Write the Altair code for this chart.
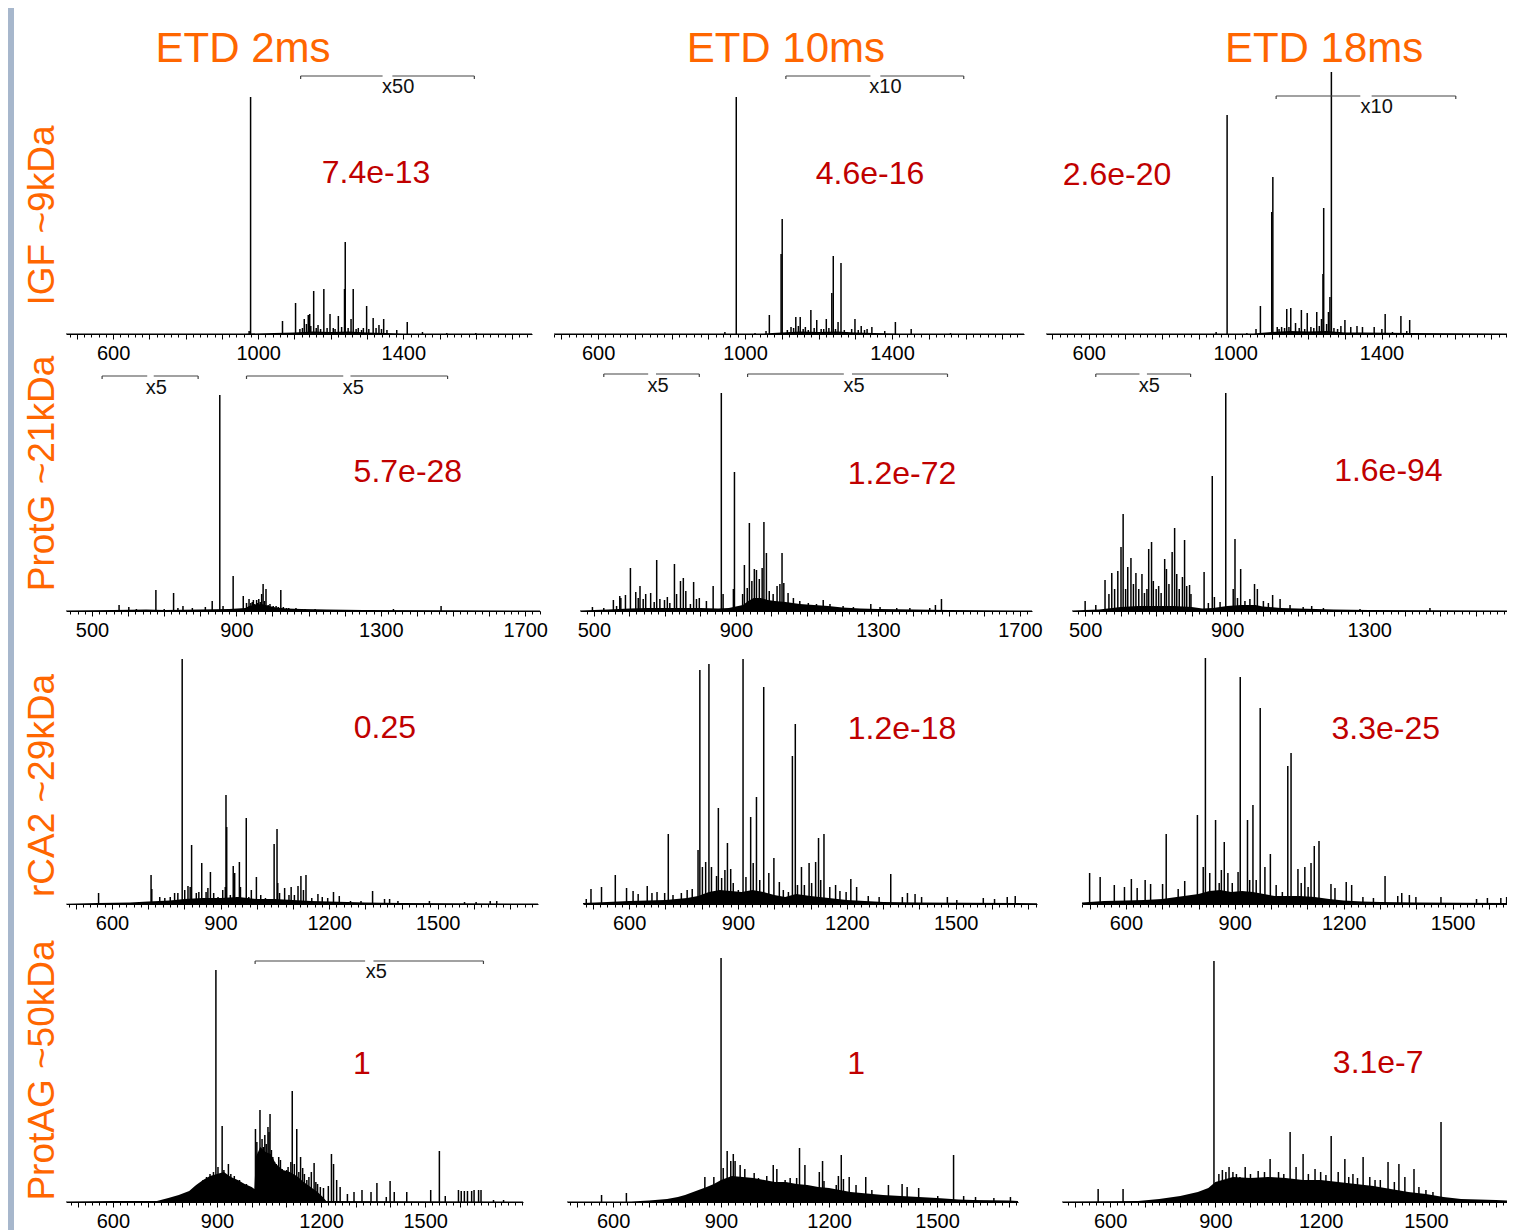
import math
import altair as alt
import pandas as pd

FONT = "Liberation Sans, Arial, Helvetica, sans-serif"
ORANGE = "#FF6600"
RED = "#C00000"
BAR = "#A7B7CC"
BRACKET = "#444444"

COL_TITLES = ["ETD 2ms", "ETD 10ms", "ETD 18ms"]
COL_TITLE_POS = [(958, 285), (1111, 285), (1243, 285)]   # (m/z, level) in the top-row panels
ROW_LABELS = ["IGF ~9kDa", "ProtG ~21kDa", "rCA2 ~29kDa", "ProtAG ~50kDa"]
LABEL_TICKS = [[600, 1000, 1400], [500, 900, 1300, 1700], [600, 900, 1200, 1500], [600, 900, 1200, 1500]]

# ---------------- spectra: peak m/z and displayed peak height ----------------
P11_MZ = [979,1067,1103,1127,1138,1142,1153,1165,1181,1198,1207,1221,1238,1240,1256,1262,1276,1299,1317,1333,1346,1382,1411,1453,1115,1122,1133,1145,1160,1172,1190,1212,1230,1248,1270,1285,1290,1305,1325,1340,1355,975,1520,1600]
P11_H = [237,13,31,15,19,20,43,9,45,20,6,18,45,92,15,45,6,28,16,9,15,4,12,2,5,6,10,8,6,5,6,5,7,6,5,4,6,5,6,5,4,3,1,1]
G11_MZ = [470,960,1100,1150,1200,1250,1300,1350,1400,1755]
G11_H = [0.4,0.4,1.5,2.5,2,2.5,1.5,1,0.6,0.4]

P12_MZ = [976,945,1027,1057,1066,1098,1101,1125,1138,1150,1164,1179,1195,1207,1221,1236,1240,1253,1261,1277,1299,1316,1332,1345,1380,1409,1452,1559,1115,1132,1145,1158,1172,1188,1214,1228,1246,1270,1290,1308,1325]
P12_H = [237,2,1,3,19,80,115,7,17,17,7,24,14,5,15,41,78,12,71,2,15,8,5,7,3,12,5,1,4,6,8,5,4,6,5,6,5,4,5,4,4]
G12_MZ = [480,1050,1100,1150,1200,1250,1300,1350,1420,1759]
G12_H = [0.4,0.5,1.5,2.5,2,2.5,1.5,1,0.6,0.4]

P13_MZ = [978,948,1032,1057,1069,1100,1103,1115,1127,1141,1152,1165,1181,1197,1207,1223,1236,1240,1242,1255,1259,1263,1289,1300,1316,1333,1348,1380,1401,1410,1430,1453,1469,1477,1120,1135,1147,1175,1190,1215,1230,1250,1270,1280]
P13_H = [219,2,1,5,28,122,157,7,7,25,26,11,24,21,7,22,15,60,126,22,37,262,8,14,7,8,7,7,5,20,2,18,3,14,5,6,7,6,5,6,8,10,6,5]
G13_MZ = [483,1050,1100,1150,1200,1250,1300,1350,1480,1745]
G13_H = [0.4,0.5,2,3,2.5,3,1.5,1.5,1,0.4]

P21_MZ = [854,575,602,623,677,700,726,738,752,778,814,833,863,891,919,928,935,947,956,962,970,974,982,988,1002,1023,1039,1057,1076,1118,1335,1467,940,944,951,958,966,978,993,1010,1016,1030,1045,1065,1090]
P21_H = [216,6,4,2,21,2,18,3,5,3,4,10,5,35,15,8,12,11,11,12,17,27,22,6,5,21,3,2,2,2,2,5,8,9,7,8,9,10,7,5,4,4,3,3,2]
G21_MZ = [428,560,650,700,800,880,925,935,950,970,990,1010,1040,1080,1150,1250,1500,1741]
G21_H = [0.5,1,1.5,1,1.5,2,3,5,6,7,5,3.5,2.5,2,1.5,1,0.8,0.4]

P22_MZ = [859,896,496,528,555,564,573,576,589,603,618,625,630,639,646,660,670,677,686,699,707,714,727,733,744,752,759,772,781,789,797,817,836,864,893,919,924,932,938,945,952,958,966,974,979,986,994,1005,1016,1024,1030,1035,1047,1062,1080,1104,1127,1146,1165,1202,1231,1280,1306,1353,1390,1446,1462,1479]
P22_H = [218,139,4,3,11,5,15,13,16,43,19,13,25,12,17,18,9,51,12,11,14,8,47,17,30,33,20,7,29,12,13,10,25,17,22,17,46,23,88,30,42,41,32,43,89,58,20,17,25,27,58,28,18,13,10,8,7,11,7,5,4,7,4,3,3,3,6,12]
G22_MZ = [461,500,540,600,650,700,750,800,850,880,920,935,950,970,990,1010,1040,1080,1120,1160,1200,1250,1300,1400,1500,1734]
G22_H = [0.5,1,1.5,2.5,3,3,3,3,2.5,3,6,10,13,13,11,10,9,7,6,5,3.5,2.5,2,1.5,1,0.5]

P23_MZ = [896,858,500,530,556,567,575,583,592,601,607,614,620,629,636,643,651,660,667,674,679,687,692,700,707,714,724,729,736,745,752,758,765,774,780,786,794,798,814,835,847,864,880,917,922,929,938,950,964,977,985,1002,1016,1028,1049,1077,1114,1138,1171,1274,1471]
P23_H = [218,135,10,6,31,17,38,22,40,64,97,22,44,53,27,38,22,37,18,22,62,69,30,22,25,18,52,42,27,59,83,37,22,34,71,25,26,17,3,39,8,14,9,22,72,13,42,10,12,27,22,10,8,16,12,6,4,5,3,2,3]
G23_MZ = [463,500,540,600,650,700,750,800,830,860,900,940,980,1000,1050,1100,1150,1200,1300,1688]
G23_H = [0.5,1,1.5,4,5,5,5,4,2.5,3,5,6,6,4.5,3,2.5,2,1.5,1,0.5]

P31_MZ = [794,563,708,710,732,746,761,773,782,801,810,816,820,833,840,848,860,865,872,881,893,906,913,915,917,927,935,939,945,952,955,963,971,978,985,999,1011,1024,1048,1056,1058,1063,1077,1089,1095,1104,1114,1122,1129,1136,1152,1169,1181,1196,1212,1228,1259,1288,1320,1353,1367,1390,1477,1574,1606,1645,1663]
P31_H = [245,11,29,15,7,6,7,11,11,14,18,17,59,11,12,41,12,16,32,11,7,14,17,109,77,9,38,31,7,42,17,3,86,7,14,27,9,6,60,75,21,11,16,9,17,9,18,28,14,29,6,10,7,6,12,8,3,3,13,5,5,3,3,2,2,3,3]
G31_MZ = [473,560,650,700,760,800,850,900,950,1000,1050,1100,1150,1200,1250,1300,1400,1777]
G31_H = [0.3,1,1.5,2.5,3.5,5,6,6,7,5,5,4,3,2.5,2,1.5,1,0.5]

P32_MZ = [914,820,795,971,1058,1050,951,935,846,871,708,999,985,1014,880,864,841,811,802,790,562,524,495,482,593,611,625,650,663,677,698,721,744,760,774,827,855,887,901,922,942,960,1025,1039,1064,1075,1083,1096,1103,1114,1122,1128,1137,1153,1169,1181,1198,1211,1227,1259,1289,1321,1353,1367,1388,1406,1477,1503,1576,1607,1642,1664,1733]
P32_H = [245,240,234,217,180,148,107,87,96,61,70,46,31,22,35,34,28,42,37,54,29,17,15,5,16,13,10,18,11,12,11,9,11,14,15,37,26,21,14,27,41,24,14,12,19,37,19,41,21,42,66,24,70,17,19,13,12,25,17,8,7,30,7,11,10,7,7,4,6,5,7,8,3]
G32_MZ = [473,540,600,700,760,790,820,850,880,910,940,970,1000,1030,1060,1100,1150,1200,1250,1300,1400,1724]
G32_H = [1,2,3,4,6,8,12,14,13,12,14,12,9,7,10,8,6,4,3,2,1.5,0.8]

P33_MZ = [819,915,970,1055,1046,950,935,797,847,871,711,1132,1119,998,983,1074,1093,1110,500,529,568,596,615,631,653,668,701,744,762,813,831,857,863,881,893,909,941,959,1014,1031,1083,1102,1165,1176,1207,1222,1253,1282,1314,1349,1360,1381,1399,1468,1566,1596,1633,1649]
P33_H = [246,227,196,151,138,99,84,89,84,62,70,63,58,50,37,35,37,41,31,27,19,17,25,16,24,20,20,15,23,37,31,21,34,31,21,32,24,24,19,12,21,17,20,16,22,19,7,6,28,8,11,9,7,7,5,6,6,7]
G33_MZ = [479,540,600,650,700,760,800,830,860,890,920,950,980,1010,1050,1080,1120,1160,1200,1250,1300,1400,1650]
G33_H = [1.5,3,3.5,4,5,8,10,13,14,12,13,12,10,8,8,8,7,5,3.5,2.5,2,1.5,1]

P41_MZ = [897,915,903,933,1011,1024,1030,1038,1047,1053,1061,1078,1088,1101,1109,1117,1130,1147,1159,1180,1207,1221,1230,1236,1245,1255,1276,1295,1318,1344,1361,1388,1399,1411,1447,1516,1541,1558,1596,1604,1613,1622,1634,1641,1654,1661,1697,1726,
          1015,1020,1034,1042,1050,1057,1066,1071,1083,1094,1105,1113,1123,1136,1141,1152,1165,1172,1185,1190,1198,860,870,880,890,920,940,950,965,985]
P41_H = [232,76,35,38,73,92,63,67,75,88,45,45,33,32,22,111,73,34,22,39,14,16,48,38,22,15,8,10,12,10,19,5,21,10,10,12,51,6,12,11,11,11,11,12,12,12,2,2,
         60,50,55,58,70,52,40,38,42,30,35,40,38,30,45,28,25,30,20,18,15,22,25,28,30,32,28,26,22,18]
G41_MZ = [465,600,727,760,790,820,840,860,880,900,920,940,960,980,1000,1008,1012,1025,1040,1055,1070,1090,1110,1130,1150,1170,1190,1205,1215,1782]
G41_H = [0.5,1,1,4,7,11,17,22,26,28,30,25,22,18,15,13,45,55,50,48,38,32,30,26,20,15,10,5,1,0.5]

P42_MZ = [900,568,637,855,880,906,917,927,934,939,953,966,992,1004,1027,1045,1055,1078,1092,1110,1118,1133,1152,1173,1182,1186,1220,1226,1234,1240,1256,1275,1302,1319,1365,1403,1417,1449,1502,1546,1574,1607,1658,1704,1746]
P42_H = [244,7,9,25,25,34,51,41,48,41,37,33,29,24,26,37,33,22,24,24,54,37,15,30,41,21,17,26,47,23,25,17,25,12,17,18,15,14,6,47,6,5,4,5,3]
G42_MZ = [472,650,700,750,780,800,830,860,880,900,930,960,990,1020,1050,1080,1110,1140,1170,1200,1230,1260,1290,1320,1350,1400,1450,1500,1560,1600,1700,1725]
G42_H = [0.5,0.5,1.5,3,5,7,11,15,18,22,26,25,24,22,20,20,18,17,15,14,12,10,9,8,7,6,5,4,2.5,2,1.5,1]

P43_MZ = [896,566,637,1543,1113,1230,1150,1056,939,985,1321,1392,1466,1292,1184,1022,1423,1269,950,1000,1080,1130,1200,1250,1280,1340,1370,1410,1440,1480,1500,1520,910,920,930,960,970,1040,1095,1165,1215,1305,1355]
P43_H = [241,13,13,80,70,66,48,43,35,35,45,40,33,28,33,31,38,43,30,28,30,35,30,30,25,25,22,20,25,15,12,10,28,32,30,28,25,30,28,28,27,24,22]
G43_MZ = [463,680,740,800,850,880,900,950,1000,1050,1100,1150,1200,1250,1300,1350,1400,1450,1500,1550,1600,1700,1731]
G43_H = [0.5,1,3,6,10,14,20,25,24,25,24,22,22,20,18,16,13,10,8,5,3,2,1.5]

# ---------------- magnification brackets: start, end, gap start, gap end, level, label, label m/z, label level
BR11 = [(1117, 1596, 1343, 1370, 258, "x50", 1386, 247)]
BR12 = [(1111, 1595, 1341, 1368, 258, "x10", 1382, 247)]
BR13 = [(1112, 1603, 1342, 1373, 238, "x10", 1387, 227)]
BR21 = [(528, 794, 653, 671, 235, "x5", 678, 223), (928, 1485, 1196, 1216, 235, "x5", 1224, 223)]
BR22 = [(528, 797, 653, 675, 237, "x5", 681, 225), (933, 1496, 1204, 1227, 237, "x5", 1233, 225)]
BR23 = [(530, 797, 653, 674, 237, "x5", 681, 225)]
BR41 = [(1010, 1668, 1327, 1351, 241, "x5", 1359, 230)]

# ---------------- E-values (text, m/z, level)
SCORES = [
    [("7.4e-13", 1325, 161), ("4.6e-16", 1340, 160), ("2.6e-20", 677, 159)],
    [("5.7e-28", 1375, 139), ("1.2e-72", 1368, 137), ("1.6e-94", 1354, 140)],
    [("0.25", 1354, 176), ("1.2e-18", 1352, 175), ("3.3e-25", 1316, 175)],
    [("1", 1318, 138), ("1", 1275, 138), ("3.1e-7", 1364, 139)],
]

DATA = [
    [(P11_MZ, P11_H, G11_MZ, G11_H, BR11), (P12_MZ, P12_H, G12_MZ, G12_H, BR12), (P13_MZ, P13_H, G13_MZ, G13_H, BR13)],
    [(P21_MZ, P21_H, G21_MZ, G21_H, BR21), (P22_MZ, P22_H, G22_MZ, G22_H, BR22), (P23_MZ, P23_H, G23_MZ, G23_H, BR23)],
    [(P31_MZ, P31_H, G31_MZ, G31_H, []), (P32_MZ, P32_H, G32_MZ, G32_H, []), (P33_MZ, P33_H, G33_MZ, G33_H, [])],
    [(P41_MZ, P41_H, G41_MZ, G41_H, BR41), (P42_MZ, P42_H, G42_MZ, G42_H, []), (P43_MZ, P43_H, G43_MZ, G43_H, [])],
]

# ---------------- layout ----------------
WIDTHS = [[466, 470, 461], [474, 452, 435], [472, 454, 425], [457, 451, 445]]
HSPACE = [22, 40, 45, 44]
XDOM = [[[470, 1755], [480, 1759], [483, 1743]],
        [[428, 1741], [461, 1734], [463, 1688]],
        [[473, 1777], [473, 1724], [479, 1650]],
        [[465, 1782], [472, 1725], [463, 1731]]]
HEIGHTS = [308, 248, 264, 269]
ROW_TITLE_X = -5
ROW_TITLE_Y = [189, 110, 145, 137]
VSPACE = -10
TOP_OFFSET = 18


def make_panel(r, c):
    mz, h, gmz, gh, brackets = DATA[r][c]
    dom = XDOM[r][c]
    w = WIDTHS[r][c]
    H = HEIGHTS[r]
    xs = alt.Scale(domain=dom, nice=False, zero=False)
    ys = alt.Scale(domain=[0, H], nice=False, zero=False)
    start = int(math.ceil(dom[0] / 20.0) * 20)
    tick_vals = list(range(start, int(dom[1]) + 1, 20))
    lab = ",".join(str(v) for v in LABEL_TICKS[r])
    xaxis = alt.Axis(
        values=tick_vals, format="d", title=None,
        labelExpr=f"indexof([{lab}], datum.value) >= 0 ? datum.label : ''",
        tickSize={"condition": {"test": "datum.value % 100 === 0", "value": 5}, "value": 3},
        tickColor="black", tickWidth=1, domainColor="black", domainWidth=1,
        labelFontSize=20, labelFont=FONT, labelColor="black", labelPadding=4,
        labelFlush=False, labelOverlap=False, grid=False,
    )
    if c == 0:
        yaxis = alt.Axis(
            title=ROW_LABELS[r], titleColor=ORANGE, titleFontSize=37, titleFont=FONT,
            titleFontWeight="normal", titleAngle=270, titleBaseline="bottom", titleAlign="center",
            titleX=ROW_TITLE_X, titleY=ROW_TITLE_Y[r],
            labels=False, ticks=False, domain=False, grid=False,
        )
    else:
        yaxis = None

    def X(f):
        return alt.X(f"{f}:Q", scale=xs, axis=xaxis)

    def Y(f):
        return alt.Y(f"{f}:Q", scale=ys, axis=yaxis)

    peaks = pd.DataFrame({"mz": mz, "h": h})
    peaks["base"] = 0
    grass = pd.DataFrame({"mz": gmz, "h": gh})
    grass["base"] = 0
    txt, smz, sh = SCORES[r][c]
    score = pd.DataFrame({"mz": [smz], "h": [sh], "t": [txt]})

    layers = [
        alt.Chart(grass).mark_area(color="black", clip=True, interpolate="linear").encode(
            x=X("mz"), y=Y("h"), y2=alt.Y2("base")),
        alt.Chart(peaks).mark_rule(color="black", strokeWidth=1.5, clip=True).encode(
            x=X("mz"), y=Y("h"), y2=alt.Y2("base")),
        alt.Chart(score).mark_text(color=RED, fontSize=32, font=FONT, align="center", baseline="middle").encode(
            x=X("mz"), y=Y("h"), text="t:N"),
    ]
    if r == 0:
        tmz, th = COL_TITLE_POS[c]
        tdf = pd.DataFrame({"mz": [tmz], "h": [th], "t": [COL_TITLES[c]]})
        layers.append(alt.Chart(tdf).mark_text(color=ORANGE, fontSize=42, font=FONT, align="center",
                                               baseline="middle").encode(x=X("mz"), y=Y("h"), text="t:N"))
    if brackets:
        segs = []
        ends = []
        labs = []
        for (b0, b1, g0, g1, lvl, lt, lx, ly) in brackets:
            segs.append({"x1": b0, "x2": g0, "y": lvl})
            segs.append({"x1": g1, "x2": b1, "y": lvl})
            ends.append({"x": b0, "y": lvl, "y2": lvl - 3})
            ends.append({"x": b1, "y": lvl, "y2": lvl - 3})
            labs.append({"x": lx, "y": ly, "t": lt})
        layers.append(alt.Chart(pd.DataFrame(segs)).mark_rule(color=BRACKET, strokeWidth=1.2).encode(
            x=X("x1"), x2=alt.X2("x2"), y=Y("y")))
        layers.append(alt.Chart(pd.DataFrame(ends)).mark_rule(color=BRACKET, strokeWidth=1.2).encode(
            x=X("x"), y=Y("y"), y2=alt.Y2("y2")))
        layers.append(alt.Chart(pd.DataFrame(labs)).mark_text(color="#111111", fontSize=20, font=FONT,
                                                              align="center", baseline="middle").encode(
            x=X("x"), y=Y("y"), text="t:N"))
    return alt.layer(*layers).properties(width=w, height=H)


rows = []
for r in range(4):
    rows.append(alt.hconcat(*[make_panel(r, c) for c in range(3)], spacing=HSPACE[r], bounds="flush"))

grid = alt.vconcat(*rows, spacing=VSPACE)

bar = alt.Chart(pd.DataFrame({"v": [0]})).mark_rect(color=BAR).encode(
    x=alt.value(0), x2=alt.value(6), y=alt.value(-TOP_OFFSET), y2=alt.value(1210)
).properties(width=6, height=1200)

chart = alt.hconcat(bar, grid, spacing=8).properties(
    padding={"left": 0, "top": 0, "right": 0, "bottom": 0}
).configure_view(strokeWidth=0)

chart.save("out.html", embed_options={"renderer": "svg", "actions": False})
